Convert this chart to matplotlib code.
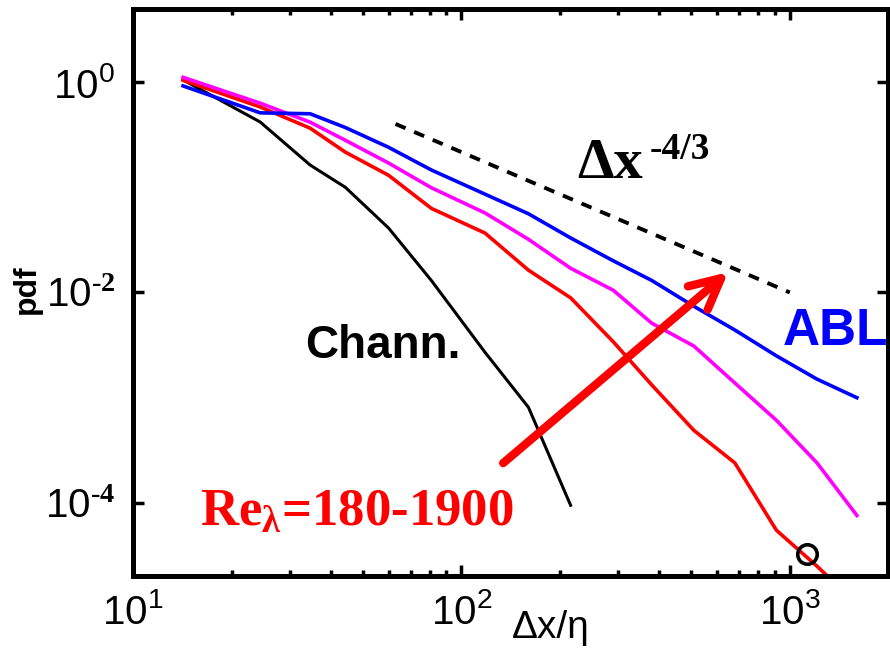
import matplotlib
matplotlib.use('Agg')
from matplotlib import pyplot as plt
from matplotlib.ticker import LogLocator, NullLocator, FixedFormatter


# separation bins (dx/eta) and pdf values
dx_eta = [14.2, 24.4, 34.6, 44.3, 60, 81, 118, 160, 215, 290, 380, 510, 680, 910, 1210, 1600]

pdf_chann = [1.05, 0.417, 0.163, 0.100, 0.041, 0.013, 0.0027, 8.1e-4, 9.5e-5]
pdf_red = [1.04, 0.58, 0.365, 0.216, 0.13, 0.063, 0.0367, 0.0163, 0.0089, 0.0034,
           0.00132, 4.9e-4, 2.4e-4, 5.5e-5, 2.5e-5, 1.1e-5]
pdf_magenta = [1.11, 0.63, 0.416, 0.28, 0.17, 0.099, 0.057, 0.032, 0.017, 0.0105,
               0.0051, 0.0031, 0.00138, 6.1e-4, 2.4e-4, 7.6e-5]
pdf_abl = [0.92, 0.51, 0.50, 0.37, 0.24, 0.146, 0.086, 0.056, 0.033, 0.020,
           0.013, 0.0074, 0.0044, 0.0025, 0.0015, 1.0e-3]

# reference power law dx^(-4/3), end points
ref_x = [63, 1000]
ref_y = [0.4, 0.01]

# Re arrow (start, end) and the single circled point
arrow_x = [134, 649]
arrow_y = [2.39e-4, 0.0156]
circ_x = [1130]
circ_y = [3.3e-5]

x_ticks = [1e1, 1e2, 1e3]
x_ticklabels = [r'$\mathdefault{10^{1}}$', r'$\mathdefault{10^{2}}$', r'$\mathdefault{10^{3}}$']
y_ticks = [1e-4, 1e-2, 1e0]
y_ticklabels = [r'$\mathdefault{10^{\text{-4}}}$', r'$\mathdefault{10^{\text{-2}}}$',
                r'$\mathdefault{10^{0}}$']

plt.rcParams['font.family'] = 'Liberation Sans'
plt.rcParams['axes.unicode_minus'] = False
plt.rcParams['mathtext.fontset'] = 'custom'
plt.rcParams['mathtext.rm'] = 'Liberation Serif:bold'
plt.rcParams['mathtext.it'] = 'Liberation Serif:bold'
plt.rcParams['mathtext.bf'] = 'Liberation Serif:bold'

fig = plt.figure(figsize=(8.9, 6.49), dpi=100)
ax = fig.add_axes([133/890, 1 - 576/649, (888 - 133)/890, (576 - 9)/649])

lw = 2.6
ax.plot(dx_eta[:len(pdf_chann)], pdf_chann, color='black', lw=2.2)
ax.plot(dx_eta, pdf_red, color='red', lw=lw)
ax.plot(dx_eta, pdf_magenta, color='magenta', lw=lw)
ax.plot(dx_eta, pdf_abl, color='blue', lw=lw)
ax.plot(ref_x, ref_y, color='black', lw=2.8, linestyle=(0, (2.8, 2.4)))
ax.plot(circ_x, circ_y, 'o', mfc='none', mec='black', ms=14, mew=2.6)

ax.annotate('', xy=(arrow_x[1], arrow_y[1]), xytext=(arrow_x[0], arrow_y[0]),
            arrowprops=dict(arrowstyle='->,head_length=0.4,head_width=0.2',
                            color='red', lw=6, mutation_scale=55,
                            shrinkA=0, shrinkB=0, capstyle='round', joinstyle='round'))

ax.set_xscale('log')
ax.set_yscale('log')
ax.set_xlim(10, 1990)
ax.set_ylim(2.02e-5, 4.95)

ax.set_xticks(x_ticks)
ax.set_yticks(y_ticks)
ax.xaxis.set_major_formatter(FixedFormatter(x_ticklabels))
ax.yaxis.set_major_formatter(FixedFormatter(y_ticklabels))
ax.xaxis.set_minor_locator(LogLocator(base=10, subs=range(2, 10)))
ax.yaxis.set_minor_locator(NullLocator())

for s in ax.spines.values():
    s.set_linewidth(3.6)
ax.tick_params(which='both', direction='in', top=True, right=True, width=2.5)
ax.tick_params(which='major', length=8, labelsize=29)
ax.tick_params(which='minor', length=4, labelbottom=False)
ax.tick_params(axis='x', pad=12)
ax.tick_params(axis='y', pad=13)

ax.text(0.502, -0.109, 'Δx/η', transform=ax.transAxes, fontsize=28,
        ha='left', va='baseline', clip_on=False)
ax.text(-0.14, 0.505, 'pdf', transform=ax.transAxes, fontsize=23,
        weight='bold', rotation=90, ha='center', va='center', clip_on=False)

ax.text(0.228, 0.384, 'Chann.', transform=ax.transAxes, fontsize=33,
        weight='bold', color='black', va='baseline')
ax.text(0.860, 0.407, 'ABL', transform=ax.transAxes, fontsize=37,
        weight='bold', color='blue', va='baseline')
ax.text(0.0887, 0.088, r'Re$_{\lambda}$=180-1900', transform=ax.transAxes,
        fontsize=38, family='Liberation Serif', weight='bold', color='red',
        va='baseline')
ax.text(0.589, 0.702, 'Δx', transform=ax.transAxes, fontsize=42,
        family='Liberation Serif', weight='bold', color='black', va='baseline')
ax.text(0.684, 0.736, '-4/3', transform=ax.transAxes, fontsize=27,
        family='Liberation Serif', weight='bold', color='black', va='baseline')

fig.savefig('out.png', dpi=100)
